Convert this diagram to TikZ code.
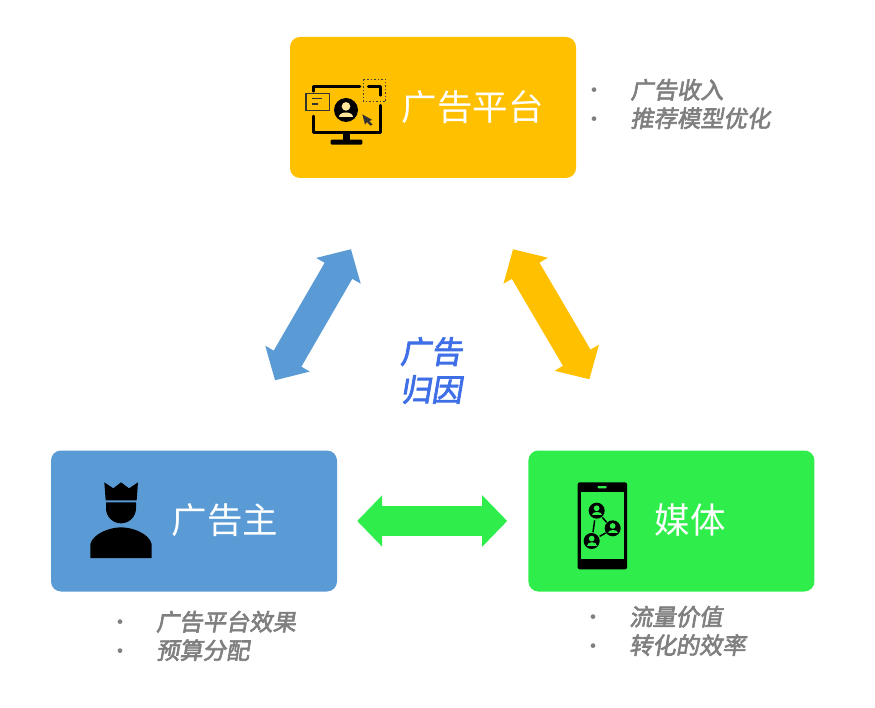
\documentclass[tikz,border=0pt]{standalone}
\usepackage{fontspec}
\usepackage{xcolor}
\setmainfont{Noto Sans CJK SC}
\newfontfamily\cjkslant[FakeSlant=0.17,FakeBold=2.6]{Noto Sans CJK SC}
\usetikzlibrary{positioning,arrows.meta,calc}
\definecolor{platcol}{HTML}{FFC000}
\definecolor{advcol}{HTML}{5B9BD5}
\definecolor{mediacol}{HTML}{2FEE4B}
\definecolor{attrcol}{HTML}{3F6FE6}
\definecolor{itemcol}{HTML}{7F7F7F}
\tikzset{
  box/.style={rounded corners=10pt, minimum width=286pt, minimum height=141pt, inner sep=0pt},
  title/.style={text=white, inner sep=0pt, font=\fontsize{35.5}{35.5}\selectfont},
  items/.style={align=left, inner sep=0pt, text=itemcol, font=\fontsize{23.3}{28.5}\selectfont\cjkslant},
  link/.style={line width=30pt, {Triangle[length=25pt,width=50pt]}-{Triangle[length=25pt,width=50pt]}},
}
\newcommand{\bul}{\makebox[38pt][l]{\hspace{-9pt}{\fontsize{22}{22}\selectfont\normalfont•}}}
% small person badge: black disc, head and shoulders cut out
\newcommand{\badge}[4]{
  \fill[black] (#1,#2) circle (#3);
  \fill[#4] (#1,#2-0.3*#3) circle (0.36*#3);
  \fill[#4] (#1-0.62*#3,#2+0.58*#3) .. controls (#1-0.62*#3,#2+0.05*#3) and (#1+0.62*#3,#2+0.05*#3) .. (#1+0.62*#3,#2+0.58*#3) -- cycle;
}
\begin{document}
\begin{tikzpicture}[x=1pt,y=-1pt]
  \useasboundingbox (0,0) rectangle (875,708);
  \node[box, fill=platcol] (plat) at (433,107.5) {};
  \node[box, fill=advcol] (adv) at (194,521) {};
  \node[box, fill=mediacol, right=191pt of adv] (media) {};

  \node[title] (plattxt) at (472.5,107.5) {广告平台};
  \node[title] (advtxt) at (225,520) {广告主};
  \node[title] (mediatxt) at (690,520) {媒体};

  \node[items, right=16pt of plat, yshift=3.5pt] (platitems) {\bul 广告收入\\\bul 推荐模型优化};
  \node[items, below=19pt of adv, xshift=13pt] (advitems) {\bul 广告平台效果\\\bul 预算分配};
  \node[items, below=14pt of media, xshift=-3pt] (mediaitems) {\bul 流量价值\\\bul 转化的效率};
  \node[inner sep=0pt, align=center, text=attrcol, font=\fontsize{31}{38}\selectfont\cjkslant] (attr) at (431,370.5) {广告\\归因};

  \coordinate (platL) at ($(plat.south)+(-82,71)$);
  \coordinate (advT) at ($(adv.north)+(81,-70)$);
  \coordinate (platR) at ($(plat.south)+(80,71)$);
  \coordinate (mediaT) at ($(media.north)+(-82,-71)$);
  \draw[link, line width=32pt, advcol] (platL) -- (advT);
  \draw[link, line width=32pt, platcol] (platR) -- (mediaT);
  \draw[link, mediacol, shorten <=20pt, shorten >=21pt] (adv.east) -- (media.west);

  % monitor
  \begin{scope}[shift={(285,30)}, scale=1/3]
    \draw[line width=2.8pt, line cap=round, line join=round] (225,170) -- (85,170) -- (85,184);
    \draw[line width=2.8pt, line cap=round, line join=round] (85,258) -- (85,308) -- (287,308) -- (287,226);
    \draw[line width=2.8pt, line cap=round, line join=round] (250,170) -- (287,170) -- (287,196);
    \fill (173,308) rectangle (195,332);
    \fill[rounded corners=1pt] (137,329) rectangle (232,344);
    \draw[line width=1.2pt, black!80] (63,190) rectangle (133,242);
    \draw[line width=1.2pt, black!80] (80,205) -- (112,205) (80,222) -- (100,222);
    \badge{183}{240}{36}{platcol!40!white}
    \draw[line width=1.5pt, dotted, black!75] (235,148) rectangle (302,215);
    \fill[black!80] (232,253) -- (262,270) -- (252,273) -- (263,284) -- (256,287) -- (246,276) -- (240,284) -- cycle;
  \end{scope}

  % crowned figure
  \begin{scope}[shift={(45,445)}, scale=1/3]
    \fill (178,112) -- (205,130) -- (228,112) -- (252,130) -- (279,112) -- (275,166) -- (182,166) -- cycle;
    \fill (183,172) -- (273,172) -- (273,190) arc (0:180:45) -- cycle;
    \fill (136,339) -- (136,297) .. controls (145,265) and (195,247) .. (228,247) .. controls (262,247) and (312,265) .. (320,297) -- (320,339) -- cycle;
  \end{scope}

  % phone
  \begin{scope}[shift={(525,445)}, scale=1/3]
    \fill[rounded corners=2pt] (158,112) rectangle (306,373);
    \fill[mediacol] (169,142) rectangle (296,342);
    \fill[mediacol, rounded corners=0.8pt] (218,123) rectangle (245,130);
    \draw[line width=1.5pt] (209,226) -- (204,262) (232,217) -- (245,232) (224,274) -- (242,264);
    \badge{215}{197}{24}{mediacol}
    \badge{263}{250}{24}{mediacol}
    \badge{200}{288}{24}{mediacol}
  \end{scope}
\end{tikzpicture}
\end{document}
